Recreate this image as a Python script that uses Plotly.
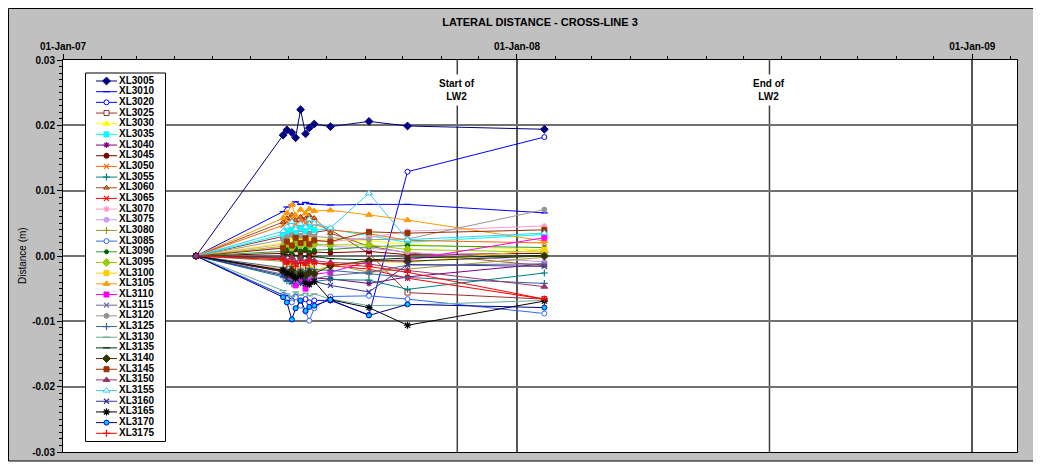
import plotly.graph_objects as go

# ---------------- data ----------------
dates = ["2007-04-18", "2007-06-27", "2007-06-30", "2007-07-04", "2007-07-07",
         "2007-07-11", "2007-07-15", "2007-07-18", "2007-07-22", "2007-08-04",
         "2007-09-04", "2007-10-05", "2008-01-23"]

XL3005 = [0, .0185, .0193, .0189, .0181, .0224, .0187, .0196, .0202, .0198, .0206, .0199, .0194]
XL3010 = [0, .0068, .0075, .0078, .0083, .0079, .0082, .0080, .0079, .0078, .0079, .0079, .0066]
XL3020 = [0, -.0060, -.0064, -.0068, -.0062, -.0070, -.0066, -.0071, -.0068, -.0068, -.0090, .0129, .0182]
XL3025 = [0, .0030, .0036, .0040, .0033, .0042, .0038, .0041, .0036, .0040, .0004, -.0056, -.0066]
XL3030 = [0, .0020, .0024, .0027, .0022, .0025, .0023, .0026, .0024, .0025, .0023, .0018, .0009]
XL3035 = [0, .0033, .0037, .0040, .0035, .0043, .0038, .0045, .0040, .0041, .0031, .0021, .0033]
XL3040 = [0, -.0024, -.0030, -.0033, -.0028, -.0036, -.0031, -.0038, -.0034, -.0035, -.0042, -.0032, -.0012]
XL3045 = [0, .0004, .0008, .0002, .0010, .0005, .0009, .0003, .0006, .0005, .0007, .0002, .0004]
XL3050 = [0, .0047, .0052, .0057, .0049, .0055, .0051, .0054, .0049, .0040, .0034, .0024, .0020]
XL3055 = [0, -.0032, -.0038, -.0042, -.0036, -.0041, -.0037, -.0043, -.0039, -.0036, -.0037, -.0051, -.0026]
XL3060 = [0, .0052, .0058, .0063, .0055, .0060, .0057, .0062, .0058, .0035, .0015, .0005, -.0015]
XL3065 = [0, -.0004, -.0010, -.0006, -.0014, -.0008, -.0012, -.0005, -.0010, -.0015, -.0020, -.0034, -.0066]
XL3070 = [0, .0018, .0022, .0016, .0024, .0020, .0026, .0021, .0023, .0022, .0028, .0038, .0046]
XL3075 = [0, .0013, .0017, .0011, .0019, .0015, .0018, .0014, .0016, .0015, .0012, .0006, -.0009]
XL3080 = [0, -.0008, -.0012, -.0006, -.0014, -.0010, -.0013, -.0009, -.0011, -.0012, -.0025, -.0020, -.0002]
XL3085 = [0, -.0060, -.0066, -.0071, -.0063, -.0076, -.0085, -.0099, -.0080, -.0062, -.0061, -.0066, -.0088]
XL3090 = [0, .0007, .0010, .0005, .0012, .0008, .0011, .0006, .0009, .0010, .0014, .0016, .0013]
XL3095 = [0, .0015, .0019, .0013, .0021, .0017, .0020, .0016, .0018, .0017, .0017, .0010, .0006]
XL3100 = [0, -.0020, -.0024, -.0016, -.0026, -.0021, -.0025, -.0018, -.0022, -.0015, -.0008, -.0010, .0010]
XL3105 = [0, .0058, .0066, .0078, .0062, .0071, .0065, .0072, .0069, .0070, .0063, .0055, .0023]
XL3110 = [0, -.0022, -.0030, -.0026, -.0045, -.0035, -.0050, -.0040, -.0028, -.0025, -.0008, -.0006, .0028]
XL3115 = [0, -.0028, -.0034, -.0030, -.0038, -.0032, -.0036, -.0031, -.0035, -.0030, -.0025, -.0014, -.0012]
XL3120 = [0, .0025, .0029, .0032, .0027, .0031, .0028, .0033, .0030, .0028, .0025, .0026, .0071]
XL3125 = [0, -.0018, -.0022, -.0016, -.0024, -.0020, -.0023, -.0019, -.0021, -.0022, -.0027, -.0033, -.0042]
XL3130 = [0, -.0053, -.0058, -.0062, -.0055, -.0060, -.0057, -.0061, -.0058, -.0066, -.0076, -.0075, -.0068]
XL3135 = [0, -.0002, .0002, -.0004, .0001, -.0003, .0000, -.0002, -.0001, -.0004, -.0006, -.0003, .0001]
XL3140 = [0, -.0024, -.0028, -.0022, -.0032, -.0026, -.0030, -.0025, -.0027, -.0015, -.0007, -.0008, .0000]
XL3145 = [0, .0012, .0022, .0016, .0028, .0020, .0027, .0018, .0024, .0022, .0037, .0035, .0040]
XL3150 = [0, -.0003, -.0008, -.0002, -.0010, -.0005, -.0009, -.0004, -.0007, -.0010, -.0012, -.0022, -.0047]
XL3155 = [0, .0038, .0045, .0052, .0041, .0049, .0044, .0056, .0050, .0043, .0096, .0025, .0035]
XL3160 = [0, -.0030, -.0036, -.0040, -.0033, -.0042, -.0037, -.0044, -.0039, -.0045, -.0055, -.0013, -.0016]
XL3165 = [0, -.0022, -.0026, -.0029, -.0034, -.0030, -.0042, -.0043, -.0039, -.0067, -.0079, -.0106, -.0069]
XL3170 = [0, -.0063, -.0071, -.0097, -.0080, -.0068, -.0084, -.0078, -.0076, -.0067, -.0091, -.0074, -.0079]
XL3175 = [0, -.0006, -.0012, -.0008, -.0016, -.0010, -.0014, -.0007, -.0011, -.0012, -.0016, -.0025, -.0066]

series = {
    "XL3005": XL3005, "XL3010": XL3010, "XL3020": XL3020, "XL3025": XL3025,
    "XL3030": XL3030, "XL3035": XL3035, "XL3040": XL3040, "XL3045": XL3045,
    "XL3050": XL3050, "XL3055": XL3055, "XL3060": XL3060, "XL3065": XL3065,
    "XL3070": XL3070, "XL3075": XL3075, "XL3080": XL3080, "XL3085": XL3085,
    "XL3090": XL3090, "XL3095": XL3095, "XL3100": XL3100, "XL3105": XL3105,
    "XL3110": XL3110, "XL3115": XL3115, "XL3120": XL3120, "XL3125": XL3125,
    "XL3130": XL3130, "XL3135": XL3135, "XL3140": XL3140, "XL3145": XL3145,
    "XL3150": XL3150, "XL3155": XL3155, "XL3160": XL3160, "XL3165": XL3165,
    "XL3170": XL3170, "XL3175": XL3175,
}

x_tick_vals = ["2007-01-01", "2008-01-01", "2009-01-01"]
x_tick_text = ["01-Jan-07", "01-Jan-08", "01-Jan-09"]
y_tick_vals = [-0.03, -0.02, -0.01, 0.0, 0.01, 0.02, 0.03]
y_tick_text = ["-0.03", "-0.02", "-0.01", "0.00", "0.01", "0.02", "0.03"]
events = [("2007-11-14", "Start of<br>LW2"), ("2008-07-22", "End of<br>LW2")]

# ---------------- styles ----------------
# (line colour, symbol, marker fill, marker outline, size)
styles = {
    "XL3005": ("#000080", "diamond", "#000080", "#000080", 6),
    "XL3010": ("#0000FF", "line-ew", "#0000FF", "#0000FF", 5),
    "XL3020": ("#0000FF", "circle", "#FFFFFF", "#0000FF", 5),
    "XL3025": ("#993333", "square", "#FFFFFF", "#993333", 5),
    "XL3030": ("#FFFF00", "triangle-up", "#FFFF00", "#FFFF00", 6),
    "XL3035": ("#00FFFF", "square", "#00FFFF", "#00FFFF", 5),
    "XL3040": ("#800080", "asterisk", "#800080", "#800080", 5),
    "XL3045": ("#800000", "circle", "#800000", "#800000", 5),
    "XL3050": ("#FF6600", "x-thin", "#FF6600", "#FF6600", 5),
    "XL3055": ("#008080", "cross-thin", "#008080", "#008080", 5),
    "XL3060": ("#A0522D", "triangle-up", "#E08040", "#993300", 5),
    "XL3065": ("#FF0000", "x-thin", "#FF0000", "#FF0000", 5),
    "XL3070": ("#FF99CC", "asterisk", "#FF99CC", "#FF99CC", 5),
    "XL3075": ("#CC99FF", "circle", "#CC99FF", "#CC99FF", 5),
    "XL3080": ("#999933", "cross-thin", "#999933", "#999933", 5),
    "XL3085": ("#3366FF", "circle", "#FFFFFF", "#3366FF", 5),
    "XL3090": ("#339933", "circle", "#006600", "#006600", 4),
    "XL3095": ("#99CC00", "diamond", "#99CC00", "#99CC00", 6),
    "XL3100": ("#FFCC00", "square", "#FFCC00", "#FFCC00", 5),
    "XL3105": ("#FF9900", "triangle-up", "#FF9900", "#FF9900", 6),
    "XL3110": ("#FF00FF", "square", "#FF00FF", "#FF00FF", 5),
    "XL3115": ("#666699", "x-thin", "#666699", "#666699", 5),
    "XL3120": ("#969696", "circle", "#969696", "#969696", 5),
    "XL3125": ("#336699", "cross-thin", "#336699", "#336699", 5),
    "XL3130": ("#66AA99", "line-ew", "#66AA99", "#66AA99", 5),
    "XL3135": ("#003300", "line-ew", "#003300", "#003300", 5),
    "XL3140": ("#333300", "diamond", "#333300", "#333300", 6),
    "XL3145": ("#993300", "square", "#993300", "#993300", 5),
    "XL3150": ("#993366", "triangle-up", "#993366", "#993366", 6),
    "XL3155": ("#33CCFF", "triangle-up", "#FFFFFF", "#33CCFF", 6),
    "XL3160": ("#333399", "x-thin", "#333399", "#333399", 5),
    "XL3165": ("#000000", "asterisk", "#000000", "#000000", 6),
    "XL3170": ("#000080", "circle", "#00CCFF", "#0000CC", 5),
    "XL3175": ("#FF0000", "cross-thin", "#FF0000", "#FF0000", 5),
}

FONT = "Liberation Sans, Arial, sans-serif"
OFF = 8                      # page body margin (the figure starts at 8,8 on screen)
SW, SH = 1041, 464           # screen size
W, H = SW - OFF, SH - OFF    # figure size
PL, PR, PT, PB = 63, 1017, 60, 452  # plot area in screen pixels


def marker_of(name):
    col, sym, fill, outline, size = styles[name]
    lw = 1.2 if sym in ("line-ew", "x-thin", "cross-thin", "asterisk") else 1
    return dict(symbol=sym, size=size, color=fill, line=dict(color=outline, width=lw))


fig = go.Figure()

for name, vals in series.items():
    col = styles[name][0]
    fig.add_trace(go.Scatter(
        x=dates, y=vals, name=name, mode="lines+markers",
        line=dict(color=col, width=1), marker=marker_of(name),
        showlegend=False, xaxis="x", yaxis="y"))

# ---------------- hand-made legend on a pixel overlay ----------------
box_x0, box_x1, box_y0, box_y1 = 85.5, 165.5, 73, 441.5
fig.add_trace(go.Scatter(
    x=[box_x0, box_x1, box_x1, box_x0, box_x0],
    y=[box_y0, box_y0, box_y1, box_y1, box_y0],
    mode="lines", fill="toself", fillcolor="white",
    line=dict(color="black", width=1), showlegend=False, hoverinfo="skip",
    xaxis="x2", yaxis="y2"))

names = list(series.keys())
row0, row_last = 81, 433.3
step = (row_last - row0) / (len(names) - 1)
ys = [row0 + i * step for i in range(len(names))]
for name, yy in zip(names, ys):
    col = styles[name][0]
    fig.add_trace(go.Scatter(x=[96, 117], y=[yy, yy], mode="lines",
                             line=dict(color=col, width=1), showlegend=False,
                             hoverinfo="skip", xaxis="x2", yaxis="y2"))
    fig.add_trace(go.Scatter(x=[106.5], y=[yy], mode="markers", marker=marker_of(name),
                             showlegend=False, hoverinfo="skip", xaxis="x2", yaxis="y2"))
fig.add_trace(go.Scatter(
    x=[119] * len(names), y=ys, mode="text", text=["<b>%s</b>" % n for n in names],
    textposition="middle right", textfont=dict(family=FONT, size=10, color="black"),
    showlegend=False, hoverinfo="skip", xaxis="x2", yaxis="y2"))

# ---------------- frame, background, event lines ----------------
def px_x(p):
    return (p - PL) / (PR - PL)


def px_y(p):
    return (PB - p) / (PB - PT)


shapes = [
    dict(type="rect", xref="paper", yref="paper", x0=px_x(8.5), x1=px_x(1035),
         y0=px_y(461), y1=px_y(8.5), fillcolor="#C0C0C0",
         line=dict(color="black", width=1), layer="below"),
    dict(type="rect", xref="paper", yref="paper", x0=0, x1=1, y0=0, y1=1,
         fillcolor="white", line=dict(width=0), layer="below"),
]
annotations = []
for d, label in events:
    shapes.append(dict(type="line", xref="x", yref="paper", x0=d, x1=d, y0=0, y1=1,
                       line=dict(color="#404040", width=1.5), layer="below"))
    annotations.append(dict(x=d, xref="x", y=px_y(89.5), yref="paper",
                            xanchor="center", yanchor="middle",
                            text="<b>%s</b>" % label,
                            showarrow=False, bgcolor="white", borderpad=3,
                            font=dict(family=FONT, size=10, color="black")))

annotations.append(dict(x=px_x(22), y=0.5, xref="paper", yref="paper",
                        xanchor="center", yanchor="middle",
                        text="Distance (m)", textangle=-90, showarrow=False,
                        font=dict(family=FONT, size=10, color="black")))

fig.update_layout(
    template="none",
    width=W, height=H, autosize=False,
    margin=dict(l=PL - OFF, r=SW - PR, t=PT - OFF, b=SH - PB, pad=0, autoexpand=False),
    paper_bgcolor="white", plot_bgcolor="white",
    title=dict(text="<b>LATERAL DISTANCE - CROSS-LINE 3</b>", x=0.5, xref="paper",
               y=1 - (22 - OFF) / H, yanchor="middle", yref="container",
               font=dict(family=FONT, size=11, color="black")),
    font=dict(family=FONT, size=10, color="black"),
    shapes=shapes, annotations=annotations,
    xaxis=dict(type="date", side="top", range=["2007-01-01", "2009-02-06"],
               automargin=False,
               tickmode="array", tickvals=x_tick_vals, ticktext=x_tick_text,
               ticks="outside", ticklen=5, tickcolor="black",
               tickfont=dict(family=FONT, size=10, color="black", weight="bold"),
               showline=True, linecolor="black", linewidth=1, mirror=True,
               showgrid=True, gridcolor="#555555", gridwidth=1.5, zeroline=False,
               minor=dict(tickmode="linear", tick0="2007-01-01", dtick="M1", ticks="outside",
                          ticklen=3, tickcolor="black", showgrid=False)),
    yaxis=dict(range=[-0.03, 0.03], automargin=False,
               tickmode="array", tickvals=y_tick_vals, ticktext=y_tick_text,
               ticks="outside", ticklen=5, tickcolor="black",
               tickfont=dict(family=FONT, size=10, color="black", weight="bold"),
               showline=True, linecolor="black", linewidth=1, mirror=True,
               showgrid=True, gridcolor="#707070", gridwidth=1.5, zeroline=False,
               minor=dict(tickmode="linear", tick0=0, dtick=0.001, ticks="outside",
                          ticklen=3, tickcolor="black", showgrid=False)),
    xaxis2=dict(overlaying="x", range=[PL, PR], visible=False, fixedrange=True,
                automargin=False),
    yaxis2=dict(overlaying="y", range=[PB, PT], visible=False, fixedrange=True,
                automargin=False),
    showlegend=False,
)

fig.write_html("out.html")
